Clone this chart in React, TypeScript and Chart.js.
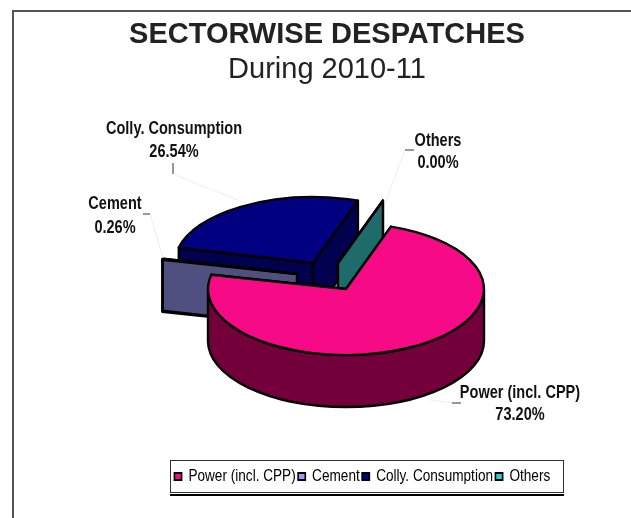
import React, { useEffect, useRef } from "react";
import { Chart, registerables } from "chart.js";

Chart.register(...registerables);

const categories = ["Power (incl. CPP)", "Cement", "Colly. Consumption", "Others"];
const shares = [73.2, 0.26, 26.54, 0.0];
const shareLabels = ["73.20%", "0.26%", "26.54%", "0.00%"];
const topColors = ["#F60A85", "#9999FF", "#000080", "#33CCCC"];
const wallColors = ["#73003A", "#4F4F80", "#00004F", "#1E6B6B"];

// Screen-space layout of the tilted pie.
const CENTER_X = 346;
const CENTER_Y = 289;
const RADIUS = 138;
const SQUASH = 0.478;
const DEPTH = 52;
const EXPLODE: [number, number][] = [[0, 0], [-49, -15], [-33, -26], [-8, -26]];
const PAINT_ORDER = [2, 1, 3, 0];
const SANS = '"Liberation Sans", Arial, sans-serif';
const TEXT_SQUEEZE = 0.83;
const LEGEND_SQUEEZE = 0.8;

type Callout = { index: number; x: number; y1: number; y2: number; tick: number[]; faint: number[] };
const CALLOUTS: Callout[] = [
  { index: 2, x: 174, y1: 134, y2: 157, tick: [173, 163, 173, 174], faint: [173, 174, 245, 203] },
  { index: 1, x: 115, y1: 209, y2: 233, tick: [143, 214, 150, 214], faint: [150, 214, 163, 258] },
  { index: 3, x: 438, y1: 146, y2: 168, tick: [405, 150, 414, 150], faint: [405, 150, 385, 203] },
  { index: 0, x: 520, y1: 398, y2: 420, tick: [452, 403, 461, 403], faint: [452, 403, 430, 400] },
];

function squeezedText(ctx: CanvasRenderingContext2D, text: string, x: number, y: number) {
  ctx.save();
  ctx.translate(x, y);
  ctx.scale(TEXT_SQUEEZE, 1);
  ctx.fillText(text, 0, 0);
  ctx.restore();
}

// Draws each arc element as a flattened, extruded slice.
const tiltedPie = {
  id: "tiltedPie",
  afterLayout(chart: any) {
    // The legend renders condensed inside its framed box.
    const legend = chart.legend;
    legend.left = 0;
    legend.right = 392 / LEGEND_SQUEEZE;
    legend.width = legend.right;
    legend.top = 465;
    legend.bottom = 492;
    legend.height = 27;
    if (!legend.condensed) {
      legend.condensed = true;
      const drawLegend = legend.draw.bind(legend);
      legend.draw = () => {
        const ctx = chart.ctx;
        ctx.save();
        ctx.translate(172, 0);
        ctx.scale(LEGEND_SQUEEZE, 1);
        drawLegend();
        ctx.restore();
      };
    }
  },
  beforeDatasetsDraw(chart: any) {
    const ctx: CanvasRenderingContext2D = chart.ctx;
    const arcs = chart.getDatasetMeta(0).data;

    ctx.save();
    ctx.lineJoin = "round";
    ctx.lineWidth = 2.4;
    ctx.strokeStyle = "#000";

    for (const i of PAINT_ORDER) {
      const arc = arcs[i];
      const { startAngle: a0, endAngle: a1, outerRadius: r } = arc.getProps(["startAngle", "endAngle", "outerRadius"]);
      const cx = CENTER_X + EXPLODE[i][0];
      const cy = CENTER_Y + EXPLODE[i][1];
      const px = (a: number) => cx + r * Math.cos(a);
      const py = (a: number) => cy + r * SQUASH * Math.sin(a);

      // Cut faces.
      ctx.fillStyle = wallColors[i];
      for (const a of [a0, a1]) {
        ctx.beginPath();
        ctx.moveTo(cx, cy);
        ctx.lineTo(px(a), py(a));
        ctx.lineTo(px(a), py(a) + DEPTH);
        ctx.lineTo(cx, cy + DEPTH);
        ctx.closePath();
        ctx.fill();
        ctx.stroke();
      }

      // Front-facing part of the rim.
      const rim0 = Math.max(a0, 0);
      const rim1 = Math.min(a1, Math.PI);
      if (rim1 > rim0) {
        ctx.beginPath();
        ctx.ellipse(cx, cy, r, r * SQUASH, 0, rim0, rim1);
        ctx.ellipse(cx, cy + DEPTH, r, r * SQUASH, 0, rim1, rim0, true);
        ctx.closePath();
        ctx.fill();
        ctx.stroke();
      }

      // Top face: the arc element itself, under a flattening transform.
      ctx.save();
      ctx.translate(cx, cy);
      ctx.scale(1, SQUASH);
      ctx.translate(-arc.x, -arc.y);
      arc.draw(ctx);
      ctx.restore();

      ctx.beginPath();
      ctx.moveTo(cx, cy);
      if (a1 > a0) ctx.ellipse(cx, cy, r, r * SQUASH, 0, a0, a1);
      else ctx.lineTo(px(a0), py(a0));
      ctx.closePath();
      ctx.stroke();
    }
    ctx.restore();
    return false;
  },
  afterDraw(chart: any) {
    const ctx: CanvasRenderingContext2D = chart.ctx;
    ctx.save();

    // Outer frame, open to the right and the bottom.
    ctx.strokeStyle = "#555";
    ctx.lineWidth = 2;
    ctx.beginPath();
    ctx.moveTo(13, 518);
    ctx.lineTo(13, 11);
    ctx.lineTo(631, 11);
    ctx.stroke();

    // Legend box with its heavier underline.
    ctx.lineWidth = 1;
    ctx.strokeStyle = "#333";
    ctx.strokeRect(170.5, 460.5, 393, 32);
    ctx.lineWidth = 2;
    ctx.strokeStyle = "#000";
    ctx.beginPath();
    ctx.moveTo(170, 495);
    ctx.lineTo(564, 495);
    ctx.stroke();

    // Slice callouts.
    ctx.textAlign = "center";
    ctx.textBaseline = "alphabetic";
    ctx.fillStyle = "#111";
    ctx.font = `bold 17.5px ${SANS}`;
    for (const c of CALLOUTS) {
      ctx.lineWidth = 1;
      ctx.strokeStyle = "#eee";
      ctx.beginPath();
      ctx.moveTo(c.faint[0], c.faint[1]);
      ctx.lineTo(c.faint[2], c.faint[3]);
      ctx.stroke();
      ctx.strokeStyle = "#333";
      ctx.beginPath();
      ctx.moveTo(c.tick[0], c.tick[1]);
      ctx.lineTo(c.tick[2], c.tick[3]);
      ctx.stroke();
      squeezedText(ctx, categories[c.index], c.x, c.y1);
      squeezedText(ctx, shareLabels[c.index], c.x, c.y2);
    }
    ctx.restore();
  },
};

export default function App() {
  const ref = useRef<HTMLCanvasElement>(null);

  useEffect(() => {
    document.body.style.margin = "0";
    const chart = new Chart(ref.current!, {
      type: "pie",
      plugins: [tiltedPie],
      data: {
        labels: categories,
        datasets: [
          {
            data: shares,
            backgroundColor: topColors,
            borderWidth: 0,
            radius: RADIUS,
          },
        ],
      },
      options: {
        responsive: false,
        animation: false,
        rotation: 19,
        layout: { padding: { left: 23, top: 18 } },
        plugins: {
          title: {
            display: true,
            text: "SECTORWISE DESPATCHES",
            color: "#222",
            font: { family: SANS, size: 29, weight: "bold" },
            padding: { top: 0, bottom: 0 },
          },
          subtitle: {
            display: true,
            text: "During 2010-11",
            color: "#222",
            font: { family: SANS, size: 29, weight: "normal" },
            padding: { top: 0, bottom: 0 },
          },
          legend: {
            position: "bottom",
            align: "start",
            labels: {
              color: "#111",
              font: { family: SANS, size: 17 },
              boxWidth: 9,
              boxHeight: 7,
              padding: 3,
              generateLabels: () =>
                categories.map((text, i) => ({
                  text,
                  fillStyle: topColors[i],
                  strokeStyle: "#000",
                  lineWidth: 2,
                  index: i,
                })),
            },
          },
          tooltip: { enabled: false },
        },
      },
    });
    return () => chart.destroy();
  }, []);

  return <canvas ref={ref} width={631} height={518} style={{ display: "block" }} />;
}
